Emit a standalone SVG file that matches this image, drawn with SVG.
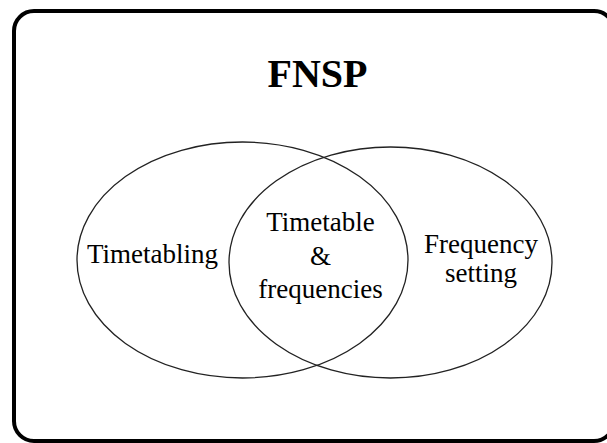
<svg xmlns="http://www.w3.org/2000/svg" width="607" height="443" viewBox="0 0 607 443">
  <style>
    .frame { fill: none; stroke: #000; stroke-width: 4; }
    .set { fill: none; stroke: #222; stroke-width: 1.3; }
    .lbl { font-family: "Liberation Serif", "Times New Roman", serif; font-size: 27px; fill: #000; text-anchor: middle; }
    .title { font-family: "Liberation Serif", "Times New Roman", serif; font-size: 40px; font-weight: bold; fill: #000; text-anchor: middle; }
  </style>
  <rect width="607" height="443" fill="#fff"/>
  <rect class="frame" x="14" y="11" width="600" height="430" rx="20" ry="20"/>
  <text class="title" x="317.5" y="87">FNSP</text>

  <g id="timetabling">
    <ellipse class="set" cx="242.5" cy="260" rx="165.5" ry="118"/>
    <text class="lbl" x="152.5" y="263">Timetabling</text>
  </g>
  <g id="frequency-setting">
    <ellipse class="set" cx="390.5" cy="262.5" rx="161.5" ry="115.5"/>
    <text class="lbl" x="481" y="253">Frequency</text>
    <text class="lbl" x="481" y="282">setting</text>
  </g>
  <g id="overlap">
    <text class="lbl" x="320.5" y="231">Timetable</text>
    <text class="lbl" x="320.5" y="265">&amp;</text>
    <text class="lbl" x="320.5" y="298">frequencies</text>
  </g>
  <g id="connectors"/>
</svg>
